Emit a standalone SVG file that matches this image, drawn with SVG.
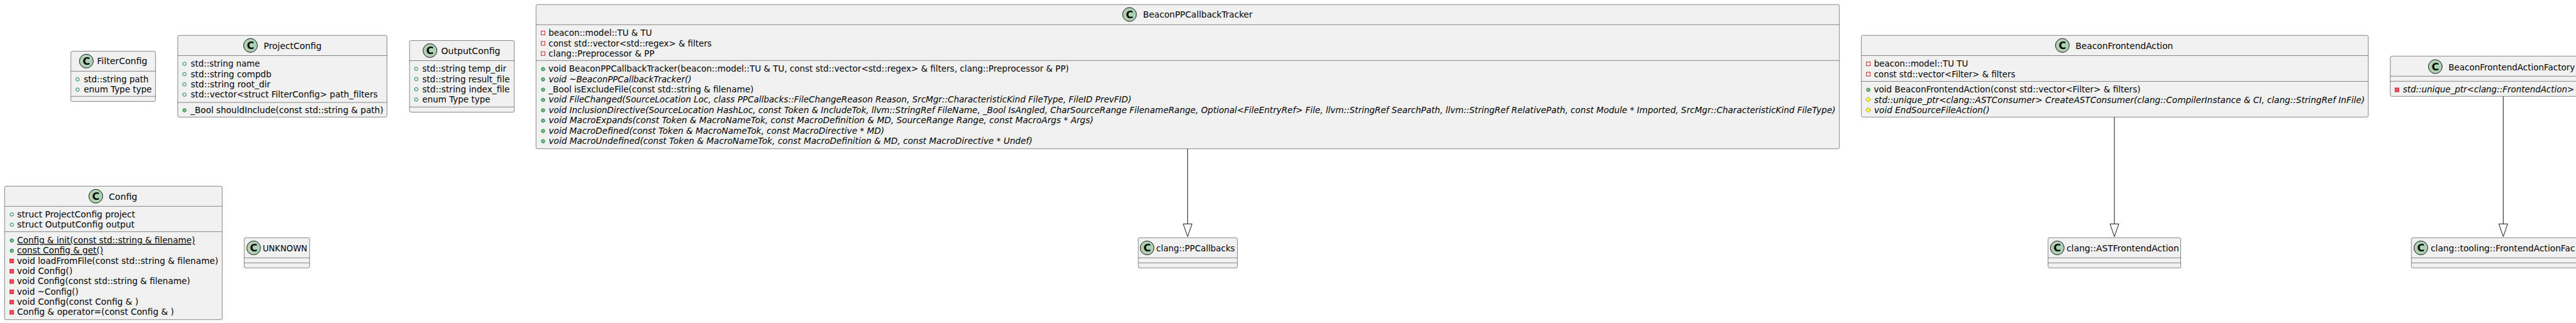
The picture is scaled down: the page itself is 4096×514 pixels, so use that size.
<svg xmlns="http://www.w3.org/2000/svg" width="4096" height="514" viewBox="0 0 4096 514">
<style>
text{font-family:"DejaVu Sans","Liberation Sans",sans-serif;font-size:14px;fill:#000}
.i{font-style:italic}
.u{text-decoration:underline}
.box{fill:#F1F1F1;stroke:#181818;stroke-width:.5}
.sep{stroke:#181818;stroke-width:.5;fill:none}
.cc{fill:#ADD1B2;stroke:#181818;stroke-width:1}
.cl{font-weight:bold;text-anchor:middle;font-size:16px}
.con{stroke:#181818;stroke-width:1;fill:none}
.head{stroke:#181818;stroke-width:1;fill:#fff}
</style>
<defs>
<circle id="pf" r="2.7" fill="none" stroke="#038048"/>
<circle id="pm" r="2.7" fill="#84BE84" stroke="#038048"/>
<rect id="rf" x="-3" y="-3" width="6" height="6" fill="none" stroke="#C82930"/>
<rect id="rm" x="-3" y="-3" width="6" height="6" fill="#F24D5C" stroke="#C82930"/>
<polygon id="dm" points="0,-4 4,0 0,4 -4,0" fill="#FFFF44" stroke="#B38D22"/>
<g id="ci"><circle class="cc" r="11"/><text class="cl" y="5.8">C</text></g>
</defs>

<g id="connectors">
<line class="con" x1="1888.4" y1="236.7" x2="1888.4" y2="356.3"/>
<polygon class="head" points="1888.4,376.5 1881.4,356.3 1895.4,356.3"/>
<line class="con" x1="3362" y1="186" x2="3362" y2="356.3"/>
<polygon class="head" points="3362,376.5 3355,356.3 3369,356.3"/>
<line class="con" x1="3980.3" y1="153.3" x2="3980.3" y2="356.3"/>
<polygon class="head" points="3980.3,376.5 3973.3,356.3 3987.3,356.3"/>
</g>

<g id="FilterConfig">
<rect class="box" x="112.7" y="81.5" width="134.6" height="80" rx="2.5"/>
<line class="sep" x1="112.7" y1="113.3" x2="247.3" y2="113.3"/>
<line class="sep" x1="112.7" y1="153.3" x2="247.3" y2="153.3"/>
<use href="#ci" x="137.3" y="97.3"/>
<text x="154.3" y="102" textLength="80" lengthAdjust="spacingAndGlyphs">FilterConfig</text>
<use href="#pf" x="123.3" y="126.3"/><text x="133.3" y="131" textLength="103" lengthAdjust="spacingAndGlyphs">std::string path</text>
<use href="#pf" x="123.3" y="142.6"/><text x="133.3" y="147.3" textLength="108" lengthAdjust="spacingAndGlyphs">enum Type type</text>
</g>

<g id="ProjectConfig">
<rect class="box" x="282.7" y="56.3" width="332.6" height="130" rx="2.5"/>
<line class="sep" x1="282.7" y1="88.5" x2="615.3" y2="88.5"/>
<line class="sep" x1="282.7" y1="163" x2="615.3" y2="163"/>
<use href="#ci" x="398.3" y="72.3"/>
<text x="419.3" y="78" textLength="92" lengthAdjust="spacingAndGlyphs">ProjectConfig</text>
<use href="#pf" x="293.3" y="101.6"/><text x="303.3" y="106.3" textLength="110" lengthAdjust="spacingAndGlyphs">std::string name</text>
<use href="#pf" x="293.3" y="118"/><text x="303.3" y="122.7" textLength="128.3" lengthAdjust="spacingAndGlyphs">std::string compdb</text>
<use href="#pf" x="293.3" y="134.3"/><text x="303.3" y="139" textLength="126.7" lengthAdjust="spacingAndGlyphs">std::string root_dir</text>
<use href="#pf" x="293.3" y="150.6"/><text x="303.3" y="155.3" textLength="297.3" lengthAdjust="spacingAndGlyphs">std::vector&lt;struct FilterConfig&gt; path_filters</text>
<use href="#pm" x="293.3" y="175.5"/><text x="303" y="180" textLength="306.5" lengthAdjust="spacingAndGlyphs">_Bool shouldInclude(const std::string &amp; path)</text>
</g>

<g id="OutputConfig">
<rect class="box" x="651.2" y="64.5" width="166.4" height="114" rx="2.5"/>
<line class="sep" x1="651.2" y1="96.5" x2="817.6" y2="96.5"/>
<line class="sep" x1="651.2" y1="170.3" x2="817.6" y2="170.3"/>
<use href="#ci" x="683.7" y="80.5"/>
<text x="701.5" y="86.2" textLength="94" lengthAdjust="spacingAndGlyphs">OutputConfig</text>
<use href="#pf" x="661.8" y="109.5"/><text x="671.5" y="114.2" textLength="133.5" lengthAdjust="spacingAndGlyphs">std::string temp_dir</text>
<use href="#pf" x="661.8" y="125.8"/><text x="671.5" y="130.5" textLength="139" lengthAdjust="spacingAndGlyphs">std::string result_file</text>
<use href="#pf" x="661.8" y="142.1"/><text x="671.5" y="146.8" textLength="139" lengthAdjust="spacingAndGlyphs">std::string index_file</text>
<use href="#pf" x="661.8" y="158.4"/><text x="671.5" y="163.1" textLength="108" lengthAdjust="spacingAndGlyphs">enum Type type</text>
</g>

<g id="BeaconPPCallbackTracker">
<rect class="box" x="852.3" y="7.3" width="2072.4" height="229.4" rx="2.5"/>
<line class="sep" x1="852.3" y1="39.3" x2="2924.7" y2="39.3"/>
<line class="sep" x1="852.3" y1="96.3" x2="2924.7" y2="96.3"/>
<use href="#ci" x="1796" y="23"/>
<text x="1817.6" y="28.4" textLength="174" lengthAdjust="spacingAndGlyphs">BeaconPPCallbackTracker</text>
<use href="#rf" x="863.5" y="52.5"/><text x="872.3" y="57.3" textLength="164.3" lengthAdjust="spacingAndGlyphs">beacon::model::TU &amp; TU</text>
<use href="#rf" x="863.5" y="69"/><text x="872.3" y="73.6" textLength="259.3" lengthAdjust="spacingAndGlyphs">const std::vector&lt;std::regex&gt; &amp; filters</text>
<use href="#rf" x="863.5" y="85.3"/><text x="872.3" y="90" textLength="168.3" lengthAdjust="spacingAndGlyphs">clang::Preprocessor &amp; PP</text>
<use href="#pm" x="863.5" y="110"/><text x="872" y="114.3" textLength="827.6" lengthAdjust="spacingAndGlyphs">void BeaconPPCallbackTracker(beacon::model::TU &amp; TU, const std::vector&lt;std::regex&gt; &amp; filters, clang::Preprocessor &amp; PP)</text>
<use href="#pm" x="863.5" y="126.3"/><text class="i" x="872.5" y="130.6" textLength="227" lengthAdjust="spacingAndGlyphs">void ~BeaconPPCallbackTracker()</text>
<use href="#pm" x="863.5" y="142.7"/><text x="872.3" y="147" textLength="326" lengthAdjust="spacingAndGlyphs">_Bool isExcludeFile(const std::string &amp; filename)</text>
<use href="#pm" x="863.5" y="159"/><text class="i" x="872.5" y="163.4" textLength="926.5" lengthAdjust="spacingAndGlyphs">void FileChanged(SourceLocation Loc, class PPCallbacks::FileChangeReason Reason, SrcMgr::CharacteristicKind FileType, FileID PrevFID)</text>
<use href="#pm" x="863.5" y="175.5"/><text class="i" x="872.5" y="179.8" textLength="2046" lengthAdjust="spacingAndGlyphs">void InclusionDirective(SourceLocation HashLoc, const Token &amp; IncludeTok, llvm::StringRef FileName, _Bool IsAngled, CharSourceRange FilenameRange, Optional&lt;FileEntryRef&gt; File, llvm::StringRef SearchPath, llvm::StringRef RelativePath, const Module * Imported, SrcMgr::CharacteristicKind FileType)</text>
<use href="#pm" x="863.5" y="192"/><text class="i" x="872.5" y="196.3" textLength="866" lengthAdjust="spacingAndGlyphs">void MacroExpands(const Token &amp; MacroNameTok, const MacroDefinition &amp; MD, SourceRange Range, const MacroArgs * Args)</text>
<use href="#pm" x="863.5" y="208.5"/><text class="i" x="872.5" y="212.8" textLength="533.5" lengthAdjust="spacingAndGlyphs">void MacroDefined(const Token &amp; MacroNameTok, const MacroDirective * MD)</text>
<use href="#pm" x="863.5" y="224.8"/><text class="i" x="872.5" y="229.2" textLength="769" lengthAdjust="spacingAndGlyphs">void MacroUndefined(const Token &amp; MacroNameTok, const MacroDefinition &amp; MD, const MacroDirective * Undef)</text>
</g>

<g id="BeaconFrontendAction">
<rect class="box" x="2959.7" y="56.3" width="806" height="130" rx="2.5"/>
<line class="sep" x1="2959.7" y1="88.5" x2="3765.7" y2="88.5"/>
<line class="sep" x1="2959.7" y1="129.5" x2="3765.7" y2="129.5"/>
<use href="#ci" x="3279.3" y="72.3"/>
<text x="3300.3" y="78" textLength="155" lengthAdjust="spacingAndGlyphs">BeaconFrontendAction</text>
<use href="#rf" x="2970.7" y="101.6"/><text x="2979.7" y="106.2" textLength="149.7" lengthAdjust="spacingAndGlyphs">beacon::model::TU TU</text>
<use href="#rf" x="2970.7" y="118"/><text x="2979.7" y="122.5" textLength="224.7" lengthAdjust="spacingAndGlyphs">const std::vector&lt;Filter&gt; &amp; filters</text>
<use href="#pm" x="2970.7" y="143"/><text x="2979.5" y="147.2" textLength="424" lengthAdjust="spacingAndGlyphs">void BeaconFrontendAction(const std::vector&lt;Filter&gt; &amp; filters)</text>
<use href="#dm" x="2970.7" y="158.5"/><text class="i" x="2980" y="163.5" textLength="780" lengthAdjust="spacingAndGlyphs">std::unique_ptr&lt;clang::ASTConsumer&gt; CreateASTConsumer(clang::CompilerInstance &amp; CI, clang::StringRef InFile)</text>
<use href="#dm" x="2970.7" y="175"/><text class="i" x="2980" y="180" textLength="183.5" lengthAdjust="spacingAndGlyphs">void EndSourceFileAction()</text>
</g>

<g id="BeaconFrontendActionFactory">
<rect class="box" x="3800.7" y="89.3" width="358" height="64" rx="2.5"/>
<line class="sep" x1="3800.7" y1="121.3" x2="4158.7" y2="121.3"/>
<line class="sep" x1="3800.7" y1="129.3" x2="4158.7" y2="129.3"/>
<use href="#ci" x="3872.3" y="106"/>
<text x="3893.3" y="111.5" textLength="201" lengthAdjust="spacingAndGlyphs">BeaconFrontendActionFactory</text>
<use href="#rm" x="3811.3" y="143"/><text class="i" x="3820.7" y="146.5" textLength="272.5" lengthAdjust="spacingAndGlyphs">std::unique_ptr&lt;clang::FrontendAction&gt;</text>
</g>

<g id="Config">
<rect class="box" x="7.3" y="296.3" width="346" height="212.4" rx="2.5"/>
<line class="sep" x1="7.3" y1="328.3" x2="353.3" y2="328.3"/>
<line class="sep" x1="7.3" y1="368.7" x2="353.3" y2="368.7"/>
<use href="#ci" x="152.3" y="312.3"/>
<text x="173" y="317.5" textLength="45.3" lengthAdjust="spacingAndGlyphs">Config</text>
<use href="#pf" x="18.7" y="341.3"/><text x="27.3" y="346" textLength="187.7" lengthAdjust="spacingAndGlyphs">struct ProjectConfig project</text>
<use href="#pf" x="18.7" y="357.6"/><text x="27.3" y="362.3" textLength="186.7" lengthAdjust="spacingAndGlyphs">struct OutputConfig output</text>
<use href="#pm" x="18.7" y="382.7"/><text class="u" x="27.3" y="387" textLength="282.7" lengthAdjust="spacingAndGlyphs">Config &amp; init(const std::string &amp; filename)</text>
<use href="#pm" x="18.7" y="399"/><text class="u" x="27.3" y="403.3" textLength="136.7" lengthAdjust="spacingAndGlyphs">const Config &amp; get()</text>
<use href="#rm" x="18.7" y="415.3"/><text x="27" y="419.6" textLength="320" lengthAdjust="spacingAndGlyphs">void loadFromFile(const std::string &amp; filename)</text>
<use href="#rm" x="18.7" y="431.7"/><text x="27" y="436" textLength="88.3" lengthAdjust="spacingAndGlyphs">void Config()</text>
<use href="#rm" x="18.7" y="448"/><text x="27" y="452.3" textLength="275.3" lengthAdjust="spacingAndGlyphs">void Config(const std::string &amp; filename)</text>
<use href="#rm" x="18.7" y="464.3"/><text x="27" y="468.6" textLength="97.7" lengthAdjust="spacingAndGlyphs">void ~Config()</text>
<use href="#rm" x="18.7" y="480.7"/><text x="27" y="485" textLength="193" lengthAdjust="spacingAndGlyphs">void Config(const Config &amp; )</text>
<use href="#rm" x="18.7" y="497"/><text x="27.3" y="501.3" textLength="249.3" lengthAdjust="spacingAndGlyphs">Config &amp; operator=(const Config &amp; )</text>
</g>

<g id="UNKNOWN">
<rect class="box" x="388.3" y="378.3" width="104" height="48" rx="2.5"/>
<line class="sep" x1="388.3" y1="410.3" x2="492.3" y2="410.3"/>
<line class="sep" x1="388.3" y1="418.3" x2="492.3" y2="418.3"/>
<use href="#ci" x="403.3" y="394.5"/>
<text x="417.7" y="400" textLength="71" lengthAdjust="spacingAndGlyphs">UNKNOWN</text>
</g>

<g id="clang_PPCallbacks">
<rect class="box" x="1810" y="378.3" width="157.5" height="48" rx="2.5"/>
<line class="sep" x1="1810" y1="410.3" x2="1967.5" y2="410.3"/>
<line class="sep" x1="1810" y1="418.3" x2="1967.5" y2="418.3"/>
<use href="#ci" x="1824" y="394.5"/>
<text x="1838.6" y="400" textLength="125" lengthAdjust="spacingAndGlyphs">clang::PPCallbacks</text>
</g>

<g id="clang_ASTFrontendAction">
<rect class="box" x="3256.5" y="378.3" width="211" height="48" rx="2.5"/>
<line class="sep" x1="3256.5" y1="410.3" x2="3467.5" y2="410.3"/>
<line class="sep" x1="3256.5" y1="418.3" x2="3467.5" y2="418.3"/>
<use href="#ci" x="3271.2" y="394.5"/>
<text x="3285.9" y="400" textLength="179" lengthAdjust="spacingAndGlyphs">clang::ASTFrontendAction</text>
</g>

<g id="clang_tooling_FrontendActionFactory">
<rect class="box" x="3834.3" y="378.3" width="292" height="48" rx="2.5"/>
<line class="sep" x1="3834.3" y1="410.3" x2="4126.3" y2="410.3"/>
<line class="sep" x1="3834.3" y1="418.3" x2="4126.3" y2="418.3"/>
<use href="#ci" x="3849.3" y="394.5"/>
<text x="3865" y="400" textLength="229.5" lengthAdjust="spacingAndGlyphs">clang::tooling::FrontendActionFac</text>
</g>
</svg>
